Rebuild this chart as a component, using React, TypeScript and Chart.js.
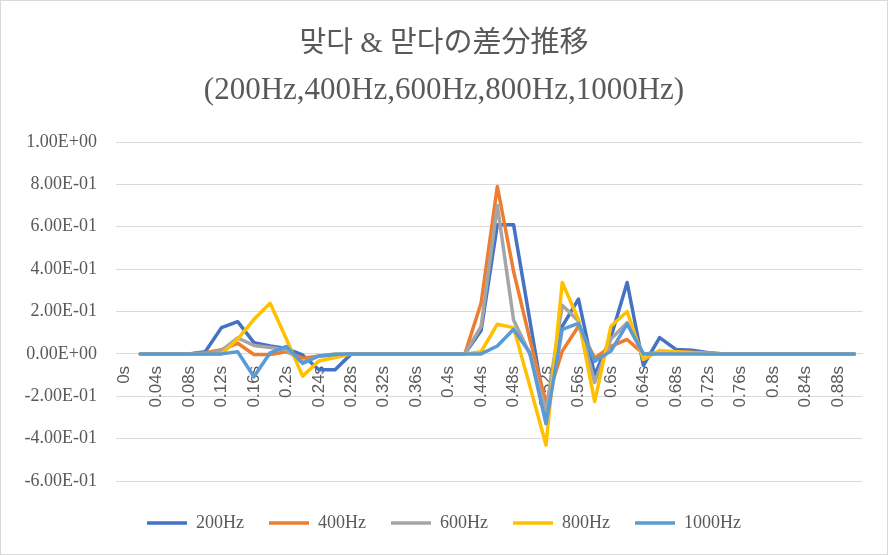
import { useEffect, useRef } from "react"
import { Chart, registerables } from "chart.js"

Chart.register(...registerables)

// 時間軸 (0.02s 刻み)
const timeLabels = [
  "0s", "0.02s", "0.04s", "0.06s", "0.08s", "0.1s", "0.12s", "0.14s", "0.16s", "0.18s",
  "0.2s", "0.22s", "0.24s", "0.26s", "0.28s", "0.3s", "0.32s", "0.34s", "0.36s", "0.38s",
  "0.4s", "0.42s", "0.44s", "0.46s", "0.48s", "0.5s", "0.52s", "0.54s", "0.56s", "0.58s",
  "0.6s", "0.62s", "0.64s", "0.66s", "0.68s", "0.7s", "0.72s", "0.74s", "0.76s", "0.78s",
  "0.8s", "0.82s", "0.84s", "0.86s", "0.88s", "0.9s",
]

const seriesNames = ["200Hz", "400Hz", "600Hz", "800Hz", "1000Hz"]
const seriesColors = ["#4472C4", "#ED7D31", "#A5A5A5", "#FFC000", "#5B9BD5"]

const diff200 = [
  null, 0, 0, 0, 0, 0.01, 0.124, 0.152, 0.053, 0.037,
  0.025, -0.005, -0.075, -0.075, 0, 0, 0, 0, 0, 0,
  0, 0, 0.11, 0.61, 0.61, 0.16, -0.29, 0.13, 0.258, -0.1,
  0.08, 0.337, -0.055, 0.077, 0.021, 0.017, 0.005, 0, 0, 0,
  0, 0, 0, 0, 0, 0,
]
const diff400 = [
  null, 0, 0, 0, 0, 0.005, 0.02, 0.05, -0.003, -0.003,
  0.01, -0.02, -0.01, -0.005, 0, 0, 0, 0, 0, 0,
  0, 0, 0.24, 0.79, 0.39, 0.07, -0.23, 0.013, 0.13, -0.02,
  0.035, 0.068, 0, 0.005, 0.01, 0.008, 0.003, 0, 0, 0,
  0, 0, 0, 0, 0, 0,
]
const diff600 = [
  null, 0, 0, 0, 0, 0, 0.015, 0.075, 0.04, 0.03,
  0.018, -0.04, -0.01, 0, 0, 0, 0, 0, 0, 0,
  0, 0, 0.13, 0.7, 0.16, 0, -0.27, 0.23, 0.155, -0.135,
  0.07, 0.147, 0, 0.005, 0.005, 0.003, 0, 0, 0, 0,
  0, 0, 0, 0, 0, 0,
]
const diff800 = [
  null, 0, 0, 0, 0, 0, 0, 0.07, 0.163, 0.239,
  0.07, -0.105, -0.034, -0.017, 0, 0, 0, 0, 0, 0,
  0, 0, 0.01, 0.14, 0.124, -0.15, -0.43, 0.337, 0.163, -0.225,
  0.13, 0.2, -0.026, 0.016, 0.01, 0.005, 0.002, 0, 0, 0,
  0, 0, 0, 0, 0, 0,
]
const diff1000 = [
  null, 0, 0, 0, 0, 0, 0, 0.01, -0.108, 0.005,
  0.035, -0.045, -0.01, -0.003, 0, 0, 0, 0, 0, 0,
  0, 0, 0, 0.037, 0.116, 0.005, -0.33, 0.116, 0.144, -0.035,
  0.013, 0.14, 0, 0, 0, 0, 0, 0, 0, 0,
  0, 0, 0, 0, 0, 0,
]

const seriesData = [diff200, diff400, diff600, diff800, diff1000]

const textColor = "#595959"
const gridColor = "#d9d9d9"
const serifFont = "'Liberation Serif', 'Noto Sans CJK JP', serif"

// 1.00E+00 形式
const toExcelExp = (v: number) => {
  const r = Math.round(v * 100) / 100
  const [mant, exp] = r.toExponential(2).split("e")
  const n = Number(exp)
  const sign = n < 0 ? "-" : "+"
  return `${mant}E${sign}${String(Math.abs(n)).padStart(2, "0")}`
}

export default function App() {
  const canvasRef = useRef<HTMLCanvasElement>(null)
  const chartRef = useRef<Chart | null>(null)

  useEffect(() => {
    if (!canvasRef.current) return
    if (chartRef.current) chartRef.current.destroy()

    const datasets = seriesNames.map((name, i) => ({
      label: name,
      data: seriesData[i],
      borderColor: seriesColors[i],
      backgroundColor: seriesColors[i],
      borderWidth: 3.5,
      borderJoinStyle: "round" as const,
      borderCapStyle: "round" as const,
      pointRadius: 0,
      tension: 0,
      order: seriesNames.length - i,
    }))

    chartRef.current = new Chart(canvasRef.current, {
      type: "line",
      data: { labels: timeLabels, datasets },
      options: {
        animation: false,
        responsive: true,
        maintainAspectRatio: false,
        layout: { padding: { left: 24, right: 24, top: 0, bottom: 12 } },
        plugins: {
          title: {
            display: true,
            text: "맞다 & 맏다の差分推移",
            color: textColor,
            font: { family: serifFont, size: 29, weight: "normal" },
            padding: { top: 26, bottom: 0 },
          },
          subtitle: {
            display: true,
            text: "(200Hz,400Hz,600Hz,800Hz,1000Hz)",
            color: textColor,
            font: { family: serifFont, size: 31, weight: "normal" },
            padding: { top: 10, bottom: 33 },
          },
          legend: {
            position: "bottom",
            labels: {
              color: textColor,
              font: { family: serifFont, size: 18 },
              usePointStyle: true,
              pointStyle: "line",
              pointStyleWidth: 40,
              padding: 25,
              sort: (a, b) => (a.datasetIndex ?? 0) - (b.datasetIndex ?? 0),
            },
          },
          tooltip: { enabled: false },
        },
        scales: {
          x: {
            type: "category",
            position: { y: 0 },
            offset: true,
            grid: { display: false, drawTicks: false },
            border: { display: true, color: gridColor, width: 1 },
            ticks: {
              autoSkip: false,
              minRotation: 90,
              maxRotation: 90,
              padding: 12,
              color: textColor,
              font: { family: "'Liberation Sans', sans-serif", size: 17 },
              callback: function (value, index) {
                return index % 2 === 0 ? timeLabels[index] : ""
              },
            },
          },
          gap: {
            axis: "x",
            type: "category",
            position: "bottom",
            grid: { display: false },
            border: { display: false },
            ticks: { display: false },
            afterFit: (scale) => {
              scale.height = 8
            },
          },
          y: {
            min: -0.6,
            max: 1.0,
            grid: { color: gridColor, lineWidth: 1, drawTicks: false },
            border: { display: false },
            ticks: {
              stepSize: 0.2,
              padding: 19,
              color: textColor,
              font: { family: serifFont, size: 18 },
              callback: (value) => toExcelExp(Number(value)),
            },
            afterFit: (scale) => {
              scale.width = 91
            },
          },
        },
      },
    })

    return () => {
      if (chartRef.current) {
        chartRef.current.destroy()
        chartRef.current = null
      }
    }
  }, [])

  return (
    <div
      style={{
        position: "fixed",
        left: 0,
        top: 0,
        width: 888,
        height: 555,
        boxSizing: "border-box",
        border: `1px solid ${gridColor}`,
        background: "#fff",
      }}
    >
      <canvas ref={canvasRef} />
    </div>
  )
}
